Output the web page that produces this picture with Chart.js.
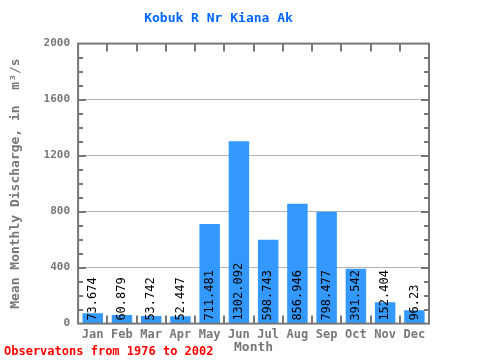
<!DOCTYPE html>
<html>
<head>
<meta charset="utf-8">
<script src="https://cdn.jsdelivr.net/npm/chart.js@4"></script>
<style>
  html, body { margin: 0; padding: 0; background: #fff; }
  #wrap { width: 480px; height: 360px; }
</style>
</head>
<body>
<div id="wrap"><canvas id="flowChart" width="480" height="360"></canvas></div>
<script>
// data
const months = ['Jan', 'Feb', 'Mar', 'Apr', 'May', 'Jun', 'Jul', 'Aug', 'Sep', 'Oct', 'Nov', 'Dec'];
const discharge = [73.674, 60.879, 53.742, 52.447, 711.481, 1302.092, 598.743, 856.946, 798.477, 391.542, 152.404, 96.23];
const yTicks = [0, 400, 800, 1200, 1600, 2000];

const MONO = '"DejaVu Sans Mono", monospace';
const AXIS_GRAY = '#777777';

// frame, inner ticks, value labels and footer
const decorPlugin = {
  id: 'decor',
  afterDatasetsDraw(chart) {
    const ctx = chart.ctx;
    const area = chart.chartArea;
    const y = chart.scales.y;
    ctx.save();

    // value labels inside bars
    const meta = chart.getDatasetMeta(0);
    ctx.font = '12px ' + MONO;
    ctx.fillStyle = '#000';
    ctx.textAlign = 'left';
    ctx.textBaseline = 'middle';
    meta.data.forEach((bar, i) => {
      ctx.save();
      ctx.translate(bar.x, area.bottom - 3);
      ctx.rotate(-Math.PI / 2);
      ctx.fillText(String(discharge[i]), 0, 0);
      ctx.restore();
    });

    // minor ticks on left and right
    ctx.strokeStyle = AXIS_GRAY;
    ctx.lineWidth = 2;
    for (let v = 100; v < 2000; v += 100) {
      const py = Math.round(y.getPixelForValue(v));
      const len = v % 400 === 0 ? 8 : 5;
      ctx.beginPath();
      ctx.moveTo(area.left, py);
      ctx.lineTo(area.left + len, py);
      ctx.moveTo(area.right, py);
      ctx.lineTo(area.right - len, py);
      ctx.stroke();
    }

    // ticks between categories, top and bottom
    const step = (area.right - area.left) / months.length;
    for (let i = 1; i < months.length; i++) {
      const px = Math.round(area.left + step * i);
      ctx.beginPath();
      ctx.moveTo(px, area.top);
      ctx.lineTo(px, area.top + 8);
      ctx.moveTo(px, area.bottom);
      ctx.lineTo(px, area.bottom - 8);
      ctx.stroke();
    }

    // frame
    ctx.strokeRect(area.left, area.top, area.right - area.left, area.bottom - area.top);

    // footer
    ctx.font = 'bold 12px ' + MONO;
    ctx.fillStyle = '#ff0000';
    ctx.textAlign = 'left';
    ctx.textBaseline = 'middle';
    ctx.fillText('Observatons from 1976 to 2002', 4, 352);
    ctx.restore();
  }
};

const flowCtx = document.getElementById('flowChart').getContext('2d');
const flowChart = new Chart(flowCtx, {
  type: 'bar',
  data: {
    labels: months,
    datasets: [{
      label: 'Mean Monthly Discharge',
      data: discharge,
      backgroundColor: '#3399ff',
      borderWidth: 0,
      barPercentage: 0.7,
      categoryPercentage: 1.0
    }]
  },
  options: {
    responsive: false,
    animation: false,
    devicePixelRatio: 1,
    layout: { padding: { top: 0, right: 51, bottom: 6, left: 8 } },
    plugins: {
      legend: { display: false },
      tooltip: { enabled: false },
      title: {
        display: true,
        text: 'Kobuk R Nr Kiana Ak',
        color: '#0066ff',
        font: { family: MONO, size: 13, weight: 'bold' },
        padding: { top: 11, bottom: 17 }
      }
    },
    scales: {
      x: {
        grid: { display: false, drawTicks: false },
        border: { display: false },
        ticks: {
          color: AXIS_GRAY,
          font: { family: MONO, size: 12, weight: 'bold' },
          padding: 4,
          maxRotation: 0
        },
        title: {
          display: true,
          text: 'Month',
          color: AXIS_GRAY,
          font: { family: MONO, size: 13, weight: 'bold', lineHeight: 1 },
          padding: { top: -5, bottom: 0 }
        }
      },
      y: {
        min: 0,
        max: 2000,
        afterBuildTicks(axis) {
          axis.ticks = yTicks.map(v => ({ value: v }));
        },
        grid: {
          drawTicks: false,
          color: ctx => (ctx.tick && (ctx.tick.value === 0 || ctx.tick.value === 2000)) ? 'rgba(0,0,0,0)' : '#b4b4b4',
          lineWidth: 1
        },
        border: { display: false },
        ticks: {
          color: AXIS_GRAY,
          font: { family: MONO, size: 11, weight: 'bold' },
          padding: 8,
          callback: v => String(v)
        },
        title: {
          display: true,
          text: 'Mean Monthly Discharge, in  m³/s',
          color: AXIS_GRAY,
          font: { family: MONO, size: 13, weight: 'bold' },
          padding: { top: 0, bottom: 12 }
        }
      }
    }
  },
  plugins: [decorPlugin]
});
</script>
</body>
</html>
